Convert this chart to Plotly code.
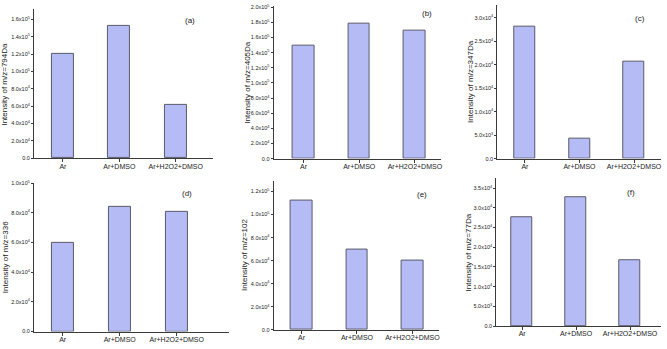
import math
import plotly.graph_objects as go

W, H = 667, 349

categories = ["Ar", "Ar+DMSO", "Ar+H2O2+DMSO"]

vals_a = [1.207e5, 1.525e5, 6.2e4]
vals_b = [1.49e5, 1.782e5, 1.69e5]
vals_c = [2.82e4, 4.2e3, 2.07e4]
vals_d = [6.0e4, 8.4e4, 8.08e4]
vals_e = [1.118e5, 7.0e4, 6.0e4]
vals_f = [2.76e4, 3.26e4, 1.68e4]

titles = ["Intensity of m/z=794Da", "Intensity of m/z=405Da", "Intensity of m/z=347Da",
          "Intensity of m/z=336", "Intensity of m/z=102", "Intensity of m/z=77Da"]
labels = ["(a)", "(b)", "(c)", "(d)", "(e)", "(f)"]

ticks_a = [0, 2e4, 4e4, 6e4, 8e4, 1e5, 1.2e5, 1.4e5, 1.6e5]
ticks_b = [0, 2e4, 4e4, 6e4, 8e4, 1e5, 1.2e5, 1.4e5, 1.6e5, 1.8e5, 2e5]
ticks_c = [0, 5e3, 1e4, 1.5e4, 2e4, 2.5e4, 3e4]
ticks_d = [0, 2e4, 4e4, 6e4, 8e4, 1e5]
ticks_e = [0, 2e4, 4e4, 6e4, 8e4, 1e5, 1.2e5]
ticks_f = [0, 5e3, 1e4, 1.5e4, 2e4, 2.5e4, 3e4, 3.5e4]


def fmt(v):
    if v == 0:
        return "0.0"
    e = int(math.floor(math.log10(v) + 1e-9))
    m = v / 10 ** e
    return f"{m:.1f}x10<sup>{e}</sup>"


# layout geometry (pixels)
geo = [
    dict(x0=34, x1=213, yb=158, yt=6, xr=[-0.513, 2.655], ymax=1.72e5, tx=5, lx=190, ly=18),
    dict(x0=274, x1=442, yb=158.3, yt=2.7, xr=[-0.538, 2.475], ymax=2.02e5, tx=247, lx=428, ly=11),
    dict(x0=498, x1=662, yb=158.3, yt=1.7, xr=[-0.507, 2.494], ymax=3.28e4, tx=471, lx=641, ly=16),
    dict(x0=34, x1=229, yb=334.3, yt=183, xr=[-0.504, 2.91], ymax=1.002e5, tx=5, lx=187, ly=194),
    dict(x0=274, x1=440, yb=332.7, yt=180.7, xr=[-0.505, 2.486], ymax=1.294e5, tx=245, lx=423, ly=195),
    dict(x0=497, x1=662, yb=328.7, yt=178.3, xr=[-0.48, 2.574], ymax=3.75e4, tx=469, lx=632, ly=193),
]

all_vals = [vals_a, vals_b, vals_c, vals_d, vals_e, vals_f]
all_ticks = [ticks_a, ticks_b, ticks_c, ticks_d, ticks_e, ticks_f]

fig = go.Figure()
annotations = []
FONT = "Liberation Sans, Arial, sans-serif"
AX = "#3a3a3a"

for i, (vals, ticks, g) in enumerate(zip(all_vals, all_ticks, geo)):
    n = "" if i == 0 else str(i + 1)
    fig.add_trace(go.Bar(
        x=categories, y=vals, xaxis="x" + n, yaxis="y" + n,
        width=0.39, marker=dict(color="#b5bbf5", line=dict(color="#5a5a6a", width=1)),
        showlegend=False, hoverinfo="skip",
    ))
    xd = [g["x0"] / W, g["x1"] / W]
    yd = [1 - g["yb"] / H, 1 - g["yt"] / H]
    fig.layout["xaxis" + n] = dict(
        domain=xd, anchor="y" + n, range=g["xr"], type="category",
        showline=True, linecolor=AX, linewidth=1, ticks="outside", ticklen=3,
        tickcolor=AX, tickwidth=1, showgrid=False, zeroline=False,
        ticklabelstandoff=-2,
        tickfont=dict(size=7, color="#222", family=FONT),
    )
    fig.layout["yaxis" + n] = dict(
        domain=yd, anchor="x" + n, range=[0, g["ymax"]],
        showline=True, linecolor=AX, linewidth=1, ticks="outside", ticklen=2,
        tickcolor=AX, tickwidth=1, showgrid=False, zeroline=False,
        tickvals=ticks, ticktext=[fmt(t) for t in ticks], ticklabelstandoff=0,
        tickfont=dict(size=5.5, color="#222", family=FONT),
    )
    annotations.append(dict(
        text=titles[i], textangle=-90, x=g["tx"] / W, y=1 - (g["yb"] + g["yt"]) / 2 / H,
        xref="paper", yref="paper", showarrow=False, xanchor="center", yanchor="middle",
        font=dict(size=8, color="#222", family=FONT),
    ))
    annotations.append(dict(
        text=labels[i], x=g["lx"] / W, y=1 - g["ly"] / H,
        xref="paper", yref="paper", showarrow=False, xanchor="center", yanchor="middle",
        font=dict(size=8, color="#222", family=FONT),
    ))

fig.update_layout(
    width=W, height=H, margin=dict(l=0, r=0, t=0, b=0),
    paper_bgcolor="white", plot_bgcolor="white",
    annotations=annotations, bargap=0,
)

fig.write_html("out.html", config={"displayModeBar": False},
               post_script="document.body.style.margin='0';document.body.style.overflow='hidden';")
